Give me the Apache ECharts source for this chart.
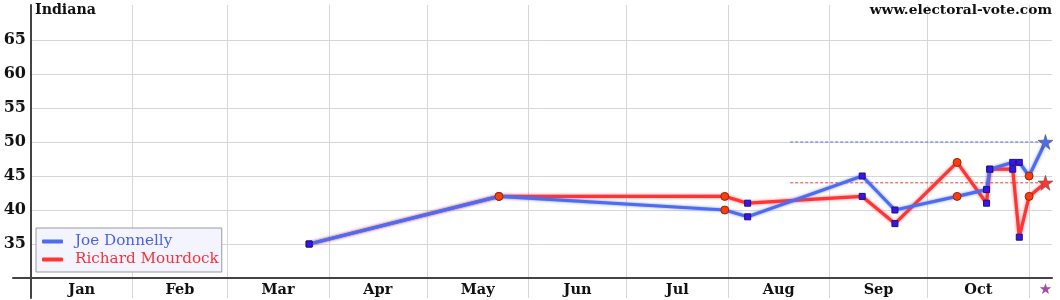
<!DOCTYPE html>
<html><head><meta charset="utf-8">
<script src="https://cdn.jsdelivr.net/npm/echarts@6/dist/echarts.min.js"></script>
<style>html,body{margin:0;padding:0;background:#fff}#c{width:1060px;height:300px}</style>
</head><body><div id="c"></div>
<script>
const stateName = 'Indiana';
const siteName = 'www.electoral-vote.com';
const candidateD = 'Joe Donnelly';
const candidateR = 'Richard Mourdock';
const pollDates = ['2012-03-26','2012-05-23','2012-07-31','2012-08-07','2012-09-11','2012-09-21','2012-10-10','2012-10-19','2012-10-20','2012-10-27','2012-10-29','2012-11-01'];
const donnelly = [35,42,40,39,45,40,42,43,46,47,47,45];
const mourdock = [35,42,42,41,42,38,47,41,46,46,36,42];
const pollMarker = ['square','circle','circle','square','square','square','circle','square','square','square','square','circle'];
const electionDate = '2012-11-06';
const donnellyResult = 50;
const mourdockResult = 44;
const refLineStart = '2012-08-20';
const monthNames = ['Jan','Feb','Mar','Apr','May','Jun','Jul','Aug','Sep','Oct'];
const monthStarts = ['2012-01-01','2012-02-01','2012-03-01','2012-04-01','2012-05-01','2012-06-01','2012-07-01','2012-08-01','2012-09-01','2012-10-01','2012-11-01'];
const axisStart = '2012-01-01';
const axisEnd = '2012-11-08';
const yTicks = [35,40,45,50,55,60,65];
const yMin = 30, yMax = 70;

const day = d => (Date.parse(d) - Date.parse(axisStart)) / 86400000;
const boundaryDays = monthStarts.map(day);
const labelDays = monthNames.map((m, i) => (boundaryDays[i] + boundaryDays[i + 1]) / 2);
const electionDay = day(electionDate);
const labelValues = labelDays.concat([electionDay]);

const FONT = 'DejaVu Serif';
const BLUE = '#4f6cf0', RED = '#ff3535';
const starPath = 'path://M50,0 L61,35 L98,35 L68,57 L79,91 L50,70 L21,91 L32,57 L2,35 L39,35 Z';
const markerStyle = {
  square: { symbol: 'rect', symbolSize: 6, itemStyle: { color: '#3a14f0', borderColor: '#1d1470', borderWidth: 1 } },
  circle: { symbol: 'circle', symbolSize: 8, itemStyle: { color: '#ff3c0c', borderColor: '#8a2a10', borderWidth: 1 } }
};
function buildSeriesData(values, result, color) {
  const pts = values.map((v, i) => Object.assign({ value: [day(pollDates[i]), v] }, markerStyle[pollMarker[i]]));
  pts.push({ value: [electionDay, result], symbol: starPath, symbolSize: 15, itemStyle: { color: color, borderColor: '#555', borderWidth: 0.6 } });
  return pts;
}

const chart = echarts.init(document.getElementById('c'), null, { renderer: 'canvas' });
chart.setOption({
  animation: false,
  backgroundColor: '#fff',
  title: [
    { text: stateName, left: 35, top: 3, padding: 0, textStyle: { fontFamily: FONT, fontWeight: 'bold', fontSize: 14.2, color: '#111' } },
    { text: siteName, right: 8, top: 3, padding: 0, textStyle: { fontFamily: FONT, fontWeight: 'bold', fontSize: 13.8, color: '#111' } }
  ],
  legend: {
    left: 36, top: 228, orient: 'vertical', itemGap: 3,
    backgroundColor: '#f4f4ff', borderColor: '#9a9aa8', borderWidth: 1, padding: [6, 3, 5, 6],
    icon: 'roundRect', itemWidth: 21, itemHeight: 4,
    textStyle: { fontFamily: FONT, fontSize: 15.2, padding: [0, 0, 0, 7] },
    data: [
      { name: candidateD, textStyle: { color: '#4a5fe6' } },
      { name: candidateR, textStyle: { color: '#f5333a' } }
    ]
  },
  grid: [
    { left: 31, right: 8, top: 6, bottom: 22 },
    { left: 31, right: 8, top: 5, bottom: 2 },
    { left: 13, right: 8, top: 6, bottom: 22 }
  ],
  xAxis: [
    { gridIndex: 0, type: 'value', min: day(axisStart), max: day(axisEnd),
      axisLine: { show: false }, axisTick: { show: false }, splitLine: { show: false },
      axisLabel: { customValues: labelValues, margin: 5,
        fontFamily: FONT, fontWeight: 'bold', fontSize: 14.5, color: '#111',
        formatter: function (v) {
          const i = labelDays.indexOf(v);
          return i >= 0 ? monthNames[i] : '{star|★}';
        },
        rich: { star: { color: '#a04ea0', fontSize: 15, fontFamily: 'DejaVu Sans' } } } },
    { gridIndex: 1, type: 'value', min: day(axisStart), max: day(axisEnd),
      axisLine: { show: false }, axisLabel: { show: false },
      axisTick: { show: false, customValues: boundaryDays },
      splitLine: { show: true, lineStyle: { color: '#d6d6d6', width: 1 } } },
    { gridIndex: 2, type: 'value', min: 0, max: 1, position: 'bottom',
      axisLine: { show: true, onZero: false, lineStyle: { color: '#444', width: 2 } },
      axisLabel: { show: false }, axisTick: { show: false }, splitLine: { show: false } }
  ],
  yAxis: [
    { gridIndex: 0, type: 'value', min: yMin, max: yMax,
      axisLine: { show: false },
      axisTick: { show: false, customValues: yTicks },
      axisLabel: { customValues: yTicks, margin: 5, fontFamily: FONT, fontWeight: 'bold', fontSize: 16, color: '#111' },
      splitLine: { show: true, lineStyle: { color: '#d6d6d6', width: 1 } } },
    { gridIndex: 1, type: 'value', min: 0, max: 1,
      axisLine: { show: true, onZero: false, lineStyle: { color: '#444', width: 2 } },
      axisLabel: { show: false }, axisTick: { show: false }, splitLine: { show: false } },
    { gridIndex: 2, type: 'value', min: 0, max: 1, show: false }
  ],
  series: [
    { type: 'line', name: 'ref-d', xAxisIndex: 0, yAxisIndex: 0, symbol: 'none', silent: true, z: 1,
      data: [[day(refLineStart), donnellyResult], [electionDay, donnellyResult]],
      lineStyle: { color: BLUE, width: 1, type: [3, 2] } },
    { type: 'line', name: 'ref-r', xAxisIndex: 0, yAxisIndex: 0, symbol: 'none', silent: true, z: 1,
      data: [[day(refLineStart), mourdockResult], [electionDay, mourdockResult]],
      lineStyle: { color: RED, width: 1, type: [3, 2] } },
    { type: 'line', name: candidateR, xAxisIndex: 0, yAxisIndex: 0, z: 3,
      color: RED, itemStyle: { color: RED },
      lineStyle: { color: RED, width: 3.2, shadowBlur: 3, shadowColor: 'rgba(255,60,60,0.7)' },
      data: buildSeriesData(mourdock, mourdockResult, RED) },
    { type: 'line', name: candidateD, xAxisIndex: 0, yAxisIndex: 0, z: 4,
      color: BLUE, itemStyle: { color: BLUE },
      lineStyle: { color: BLUE, width: 3.2, shadowBlur: 3, shadowColor: 'rgba(80,110,240,0.7)' },
      data: buildSeriesData(donnelly, donnellyResult, BLUE) }
  ]
});
</script>
</body></html>
